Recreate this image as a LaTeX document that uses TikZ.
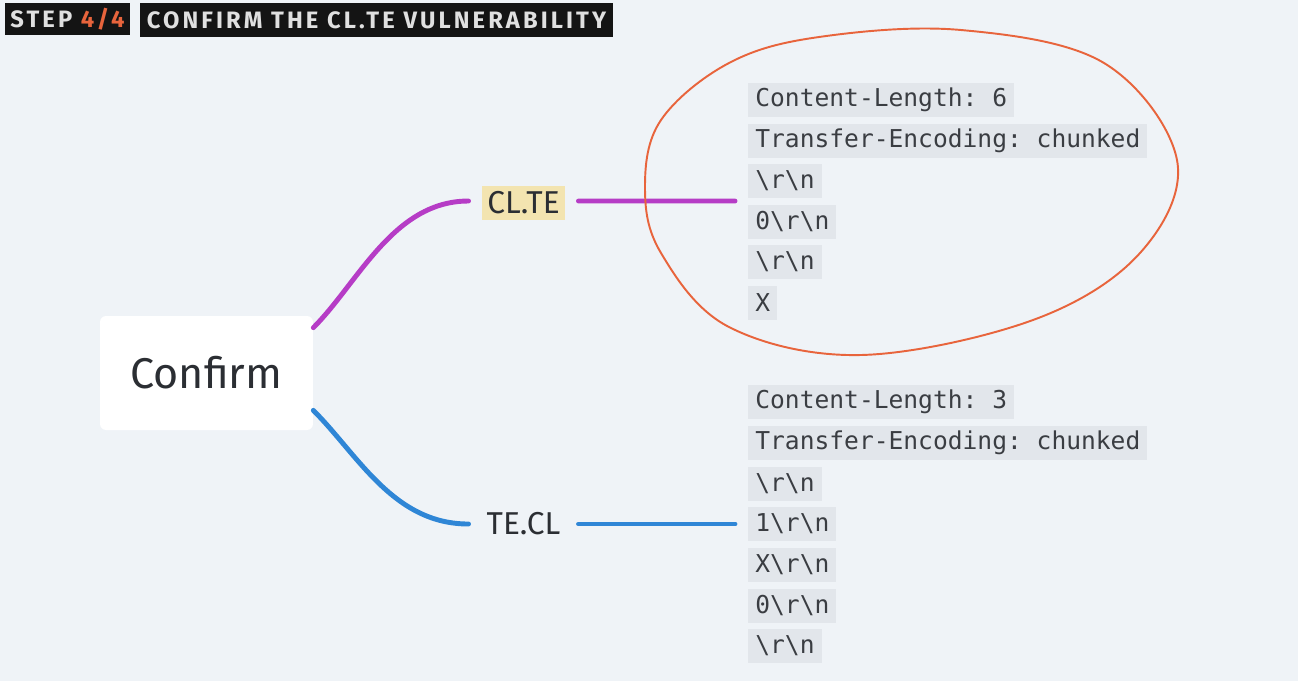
\documentclass[tikz,border=0pt]{standalone}
\usepackage{fontspec}
\setmainfont{Fira Sans}
\setmonofont{DejaVu Sans Mono}
\newfontfamily\headfont{Fira Sans}[LetterSpace=13]
\usepackage{xcolor}
\usetikzlibrary{calc,positioning}
\definecolor{paper}{HTML}{EFF3F7}
\definecolor{ink}{HTML}{2B2E33}
\definecolor{codebg}{HTML}{E2E6EB}
\definecolor{codetx}{HTML}{3A3D42}
\definecolor{clpurple}{HTML}{B63CC6}
\definecolor{teblue}{HTML}{2F86D6}
\definecolor{penorange}{HTML}{E8643C}
\definecolor{hilite}{HTML}{F3E4B0}

\begin{document}
\begin{tikzpicture}[
  x=0.02cm, y=-0.02cm,
  tag/.style={fill=black!92, text=black!12, font=\headfont\bfseries\fontsize{13.5}{15}\selectfont, minimum height=0.64cm, inner sep=0pt},
  root/.style={fill=white, rounded corners=0.12cm, minimum width=4.26cm, minimum height=2.28cm, text=ink, font=\fontsize{24.5}{28}\selectfont},
  topic/.style={text=ink, font=\fontsize{18}{20}\selectfont, minimum width=1.66cm, minimum height=0.68cm, inner sep=0pt, outer sep=0.27cm},
  code/.style={anchor=west, fill=codebg, text=codetx, font=\ttfamily\fontsize{14}{16}\selectfont, minimum height=0.68cm, inner xsep=0.14cm, inner ysep=0pt},
  branch/.style={line width=2.8pt, line cap=round},
]
\fill[paper] (0,0) rectangle (1298,681);
\useasboundingbox (0,0) rectangle (1298,681);
% header
\node[tag, minimum width=2.5cm] (stepno) at (67.5,19) {STEP \textcolor{penorange}{4/4}};
\node[tag, minimum width=9.46cm, minimum height=0.68cm] (title) at (376.5,20) {CONFIRM THE CL.TE VULNERABILITY};
% mind map
\node[root] (conf) at (206.5,373) {Confirm};
\node[topic, fill=hilite] (clte) at (523.5,203) {CL.TE};
\node[topic] (tecl) at (523.5,524) {TE.CL};
\coordinate (clin) at (735,201);
\coordinate (tein) at (735,524);
\draw[branch, clpurple] ($(conf.north east)+(0,12)$) .. controls +(45,-45) and +(-75,0) .. ([yshift=0.04cm]clte.west);
\draw[branch, clpurple] ([yshift=0.04cm]clte.east) -- (clin);
\draw[branch, teblue] ($(conf.south east)+(0,-20)$) .. controls +(45,45) and +(-75,0) .. (tecl.west);
\draw[branch, teblue] (tecl.east) -- (tein);
% CL.TE request
\node[code] (cl1) at (748,100) {Content-Length: 6};
\node[code] (cl2) at (748,140.5) {Transfer-Encoding: chunked};
\node[code] (cl3) at (748,181) {\textbackslash r\textbackslash n};
\node[code] (cl4) at (748,221.5) {0\textbackslash r\textbackslash n};
\node[code] (cl5) at (748,262) {\textbackslash r\textbackslash n};
\node[code] (cl6) at (748,302.5) {X};
% TE.CL request
\node[code] (te1) at (748,402) {Content-Length: 3};
\node[code] (te2) at (748,443) {Transfer-Encoding: chunked};
\node[code] (te3) at (748,483.5) {\textbackslash r\textbackslash n};
\node[code] (te4) at (748,524) {1\textbackslash r\textbackslash n};
\node[code] (te5) at (748,565) {X\textbackslash r\textbackslash n};
\node[code] (te6) at (748,605.5) {0\textbackslash r\textbackslash n};
\node[code] (te7) at (748,646) {\textbackslash r\textbackslash n};
% hand-drawn loop round the CL.TE request
\draw[penorange, line width=1.1pt] plot[smooth cycle, tension=0.6] coordinates {
  (961,30) (1104,63) (1177,160) (1140,253) (1033,320) (861,355) (729,327) (661,253)
  (645,187) (661,120) (729,63) (819,37)};
\end{tikzpicture}
\end{document}
